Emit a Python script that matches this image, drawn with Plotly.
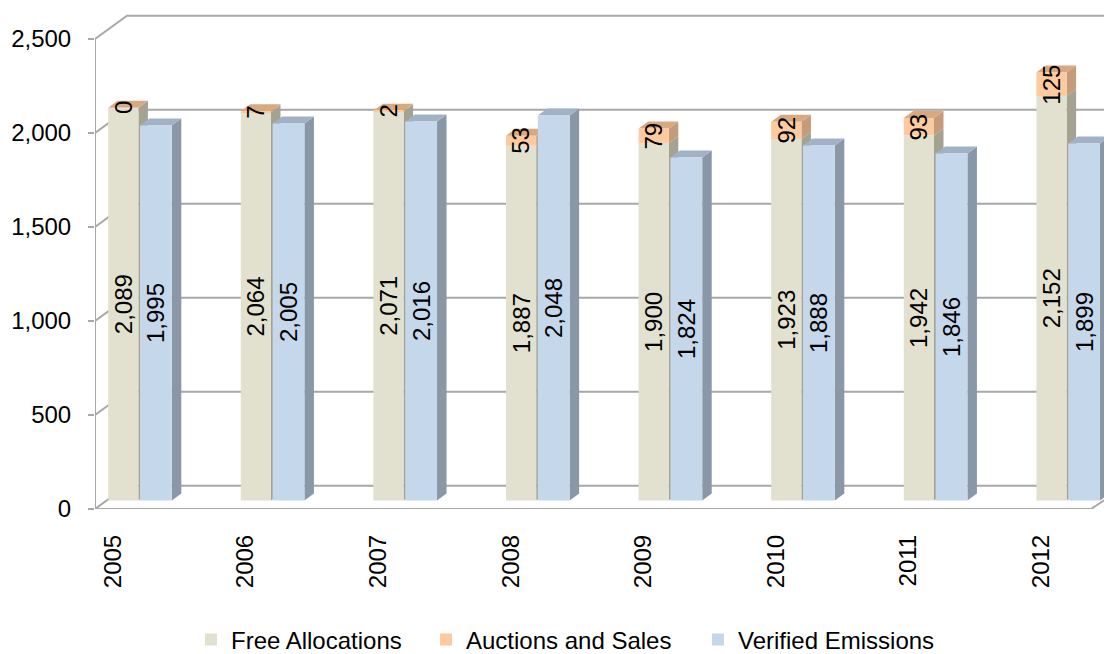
import plotly.graph_objects as go
import numpy as np

# ---------------- data ----------------
years = [2005, 2006, 2007, 2008, 2009, 2010, 2011, 2012]
free_alloc = [2089, 2064, 2071, 1887, 1900, 1923, 1942, 2152]
auctions = [0, 7, 2, 53, 79, 92, 93, 125]
verified = [1995, 2005, 2016, 2048, 1824, 1888, 1846, 1899]
y_ticks = [0, 500, 1000, 1500, 2000, 2500]
series_names = ["Free Allocations", "Auctions and Sales", "Verified Emissions"]

# ---------------- styling / geometry (page pixel coordinates) ----------------
PAGE_W, PAGE_H = 1112, 654
BODY = 8                              # default page body margin
W, H = PAGE_W - BODY, PAGE_H - BODY
P_LEFT, P_TOP, P_BOTTOM, P_RIGHT = 95, 8, 509, 1112   # plot area on the page
ML, MT = P_LEFT - BODY, P_TOP - BODY
MB, MR = PAGE_H - P_BOTTOM, PAGE_W - P_RIGHT
PW, PH = P_RIGHT - P_LEFT, P_BOTTOM - P_TOP
X_PX0, X_STEP = 140.0, 132.6        # page pixel of first category, px per category
Y_SCALE = 0.188                     # px per unit
BAR_SHIFT_PX = 8.5                  # bar plane lies behind the axis plane
WALL_SHIFT_PX = 23.3                # back wall
WALL_DX_PX = 32.0
DEPTH_DX_PX, DEPTH_DY_PX = 9.5, 7.0

def xv(px):
    return years[0] + (px - X_PX0) / X_STEP

x_rng = [xv(P_LEFT), xv(P_RIGHT)]
y_rng = [0, PH / Y_SCALE]
bar_shift = BAR_SHIFT_PX / Y_SCALE
y2_rng = [y_rng[0] - bar_shift, y_rng[1] - bar_shift]
wall_dy = WALL_SHIFT_PX / Y_SCALE
ddx = DEPTH_DX_PX / X_STEP
ddy = DEPTH_DY_PX / Y_SCALE

FONT = "Liberation Sans, Arial, sans-serif"
C_FREE, C_FREE_SIDE = "#E2E0CE", "#A4A291"
C_AUC, C_AUC_TOP, C_AUC_SIDE = "#FCCA9E", "#D8A880", "#C49C7A"
C_VER, C_VER_TOP, C_VER_SIDE = "#C5D7EB", "#A1B2C6", "#8A97A7"
C_GRID = "#A8A8A8"

FREE_OFF, FREE_W = -0.24, 0.228
VER_OFF, VER_W = 0.0, 0.24

fig = go.Figure()

fig.add_trace(go.Bar(
    x=years, y=free_alloc, name=series_names[0], offset=FREE_OFF, width=FREE_W,
    marker=dict(color=C_FREE, line=dict(width=0)), yaxis="y2",
    text=free_alloc, texttemplate="%{y:,}", textposition="inside",
    insidetextanchor="middle", textangle=-90, showlegend=True,
    textfont=dict(size=24, color="#000000", family=FONT), legend="legend"))
fig.add_trace(go.Bar(
    x=years, y=auctions, base=free_alloc, name=series_names[1], offset=FREE_OFF,
    width=FREE_W, marker=dict(color=C_AUC, line=dict(width=0)), yaxis="y2",
    showlegend=True, legend="legend2"))
fig.add_trace(go.Bar(
    x=years, y=verified, name=series_names[2], offset=VER_OFF, width=VER_W,
    marker=dict(color=C_VER, line=dict(width=0)), yaxis="y2",
    text=verified, texttemplate="%{y:,}", textposition="inside",
    insidetextanchor="middle", textangle=-90, showlegend=True,
    textfont=dict(size=24, color="#000000", family=FONT), legend="legend3"))

shapes = []
# back wall + left wall grid lines
for g in y_ticks:
    shapes.append(dict(
        type="path", xref="x", yref="y", layer="below",
        path=f"M{x_rng[0]},{g} L{xv(P_LEFT + WALL_DX_PX)},{g + wall_dy} L{x_rng[1]},{g + wall_dy}",
        line=dict(color=C_GRID, width=2)))
# value axis line
shapes.append(dict(type="line", xref="x", yref="y", layer="below",
                   x0=x_rng[0], x1=x_rng[0], y0=y_ticks[0], y1=y_ticks[-1],
                   line=dict(color=C_GRID, width=2)))
# floor front edge
shapes.append(dict(type="path", xref="x", yref="y", layer="below",
                   path=f"M{x_rng[0]},0 L{xv(1091)},0 L{x_rng[1]},{14 / Y_SCALE}",
                   line=dict(color=C_GRID, width=2)))

def side(L, R, b, t, color):
    return dict(type="path", xref="x", yref="y2", layer="below", fillcolor=color,
                line=dict(width=0),
                path=f"M{R},{b} L{R + ddx},{b + ddy} L{R + ddx},{t + ddy} L{R},{t} Z")

def top(L, R, t, color):
    return dict(type="path", xref="x", yref="y2", layer="below", fillcolor=color,
                line=dict(width=0),
                path=f"M{L},{t} L{L + ddx},{t + ddy} L{R + ddx},{t + ddy} L{R},{t} Z")

for yr, f, a, v in zip(years, free_alloc, auctions, verified):
    L, R = yr + FREE_OFF, yr + FREE_OFF + FREE_W
    shapes.append(side(L, R, 0, f, C_FREE_SIDE))
    shapes.append(side(L, R, f, f + a, C_AUC_SIDE))
    shapes.append(top(L, R, f + a, C_AUC_TOP))
    L2, R2 = yr + VER_OFF, yr + VER_OFF + VER_W
    shapes.append(side(L2, R2, 0, v, C_VER_SIDE))
    shapes.append(top(L2, R2, v, C_VER_TOP))

annotations = []
for yr, f, a in zip(years, free_alloc, auctions):
    annotations.append(dict(
        x=yr + FREE_OFF + FREE_W / 2, y=f + a / 2, xref="x", yref="y2",
        text=str(a), showarrow=False, textangle=-90,
        font=dict(size=24, color="#000000", family=FONT)))

quarter_ticks = list(np.arange(xv(96), x_rng[1], 0.25))

LEG_Y = (P_BOTTOM - 640) / PH
def leg(px):
    return dict(orientation="h", x=(px - P_LEFT) / PW, xanchor="left",
                y=LEG_Y, yanchor="middle", font=dict(size=24, family=FONT),
                bgcolor="rgba(0,0,0,0)", borderwidth=0)

fig.update_layout(
    width=W, height=H,
    margin=dict(l=ML, r=MR, t=MT, b=MB, autoexpand=False),
    paper_bgcolor="white", plot_bgcolor="white",
    barmode="overlay", showlegend=True,
    font=dict(family=FONT, size=24, color="#000000"),
    shapes=shapes, annotations=annotations,
    uniformtext=dict(mode="show", minsize=24),
    xaxis=dict(range=x_rng, tickvals=years, ticktext=[str(y) for y in years],
               tickangle=-90, ticks="", showgrid=False, showline=False,
               zeroline=False, ticklabelshift=-27, ticklabelstandoff=20,
               automargin=False,
               tickfont=dict(size=24, family=FONT, color="#000000")),
    xaxis2=dict(range=x_rng, overlaying="x", anchor="y", side="bottom",
                tickvals=quarter_ticks, showticklabels=False, ticks="outside",
                ticklen=8, tickwidth=2, tickcolor=C_GRID, showgrid=False,
                showline=False, zeroline=False, automargin=False),
    yaxis=dict(range=y_rng, tickvals=y_ticks, tickformat=",", ticks="outside",
               ticklen=6, tickwidth=2, tickcolor=C_GRID, showgrid=False,
               showline=False, zeroline=False, ticklabelstandoff=12,
               automargin=False,
               tickfont=dict(size=24, family=FONT, color="#000000")),
    yaxis2=dict(range=y2_rng, overlaying="y", visible=False, showgrid=False,
                zeroline=False),
    legend=leg(191),
    legend2=leg(426),
    legend3=leg(698),
)

fig.write_html("out.html")
